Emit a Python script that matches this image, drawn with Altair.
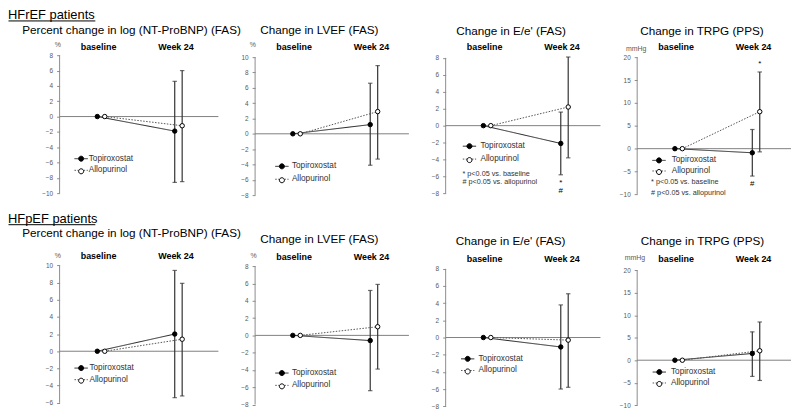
import altair as alt
import pandas as pd
import numpy as np

# ---------------- data ----------------
visits = ["baseline", "Week 24"]
weeks = [0, 24]
arms = ["Topiroxostat", "Allopurinol"]
groups = ["HFrEF patients", "HFpEF patients"]
titles = [
    "Percent change in log (NT-ProBNP) (FAS)", "Change in LVEF (FAS)",
    "Change in E/e' (FAS)", "Change in TRPG (PPS)",
    "Percent change in log (NT-ProBNP) (FAS)", "Change in LVEF (FAS)",
    "Change in E/e' (FAS)", "Change in TRPG (PPS)",
]
units = ["%", "%", "", "mmHg", "%", "%", "", "mmHg"]
tick_min = [-10, -8, -8, -10, -6, -8, -8, -10]
tick_max = [8, 10, 8, 20, 10, 8, 8, 20]
tick_step = [2, 2, 2, 5, 2, 2, 2, 5]

topi_base = [0, 0, 0, 0, 0, 0, 0, 0]
allo_base = [0, 0, 0, 0, 0, 0, 0, 0]
topi_w24 = [-1.9, 1.2, -2.1, -0.9, 2.0, -0.6, -1.1, 1.5]
topi_lo = [-8.6, -4.1, -5.8, -6.0, -5.4, -6.4, -6.0, -3.6]
topi_hi = [4.6, 6.6, 1.6, 4.2, 9.4, 5.2, 3.8, 6.3]
allo_w24 = [-1.2, 2.9, 2.2, 8.1, 1.4, 1.0, -0.3, 2.1]
allo_lo = [-8.5, -3.3, -3.8, -0.7, -5.2, -3.9, -5.8, -4.5]
allo_hi = [6.0, 8.9, 8.1, 16.8, 7.9, 5.9, 5.1, 8.5]

notes = ["* p<0.05 vs. baseline", "# p<0.05 vs. allopurinol"]
sig_panel = [2, 3, 3]
sig_arm = ["Topiroxostat", "Allopurinol", "Topiroxostat"]
sig_side = ["low", "high", "low"]
sig_text = ["*\n#", "*", "#"]

# ---------------- layout / style ----------------
COL_W = [160, 155, 156, 155]
COL_GAP = 37
ROW_T = [54, 265.5]
ROW_H = [141, 142.5]
ROW_GAP = ROW_T[1] - ROW_T[0] - ROW_H[0]
PX_PER_WEEK = 3.25
X0 = 41.75
ARM_SHIFT = 1.154
TICK_PX = [(54.1, 193), (56, 195), (56.7, 193.3), (56.2, 194.2),
           (265.7, 404.3), (266.7, 406), (269.3, 407.7), (270.7, 406.7)]
TITLE_POS = [(72.5, -25.7), (64.7, -25.7), (66, -24.7), (65.3, -24.7),
             (72.5, -32.2), (64.8, -26.2), (65.5, -23.8), (65.8, -23.8)]
X_LABEL_PAD = [3.8, 3.8, 3.8, 3.8, 4.6, 3.6, 2.0, 1.3]
UNIT_POS = [(-2.3, -10.7), (-2.7, -10.7), None, (-1.5, -6.5),
            (-2.3, -9.8), (-2.0, -9.8), None, (-2.7, -7.2)]
LEG = [(17.55, 100.15, 2.7, 3.5), (22.85, 107.85, 4, 5.9), (19.85, 87.55, 4, 6.9),
       (17.85, 101.85, 1.7, 8.6), (17.55, 99.65, 2.7, 4.2), (22.85, 104.65, 3.4, 5.9),
       (18.05, 90.35, 2.7, 6.7), (18.15, 103.65, 2, 7.6)]
NOTE_LEG = {2: (9.7, 115.65, 1), 3: (6.7, 124.05, 3)}
HEAD = {0: (-46, "top", -34.5), 4: (-42.2, "alphabetic", -40.7)}

AXIS_GRAY = "#8c8c8c"
ZERO_GRAY = "#808080"
BAR = "#333333"
LINE_COLORS = ["#222222", "#555555"]
DASHES = [[1, 0], [1.5, 1.5]]
PT_SIZE = 20
# legend symbols: both span the same extent so the two legends stay aligned
LINE_SYMBOL = "M-3,0H-1.13M1.13,0H3"
DOT_SYMBOL = "M-3,0M3,0M1.13,0A1.13,1.13,0,1,1,-1.13,0A1.13,1.13,0,1,1,1.13,0Z"

label_expr = f"datum.value == {weeks[0]} ? '{visits[0]}' : '{visits[1]}'"
xcalc = f"datum.week + (datum.series == '{arms[0]}' ? {-ARM_SHIFT} : {ARM_SHIFT})"


def make_panel(i):
    col, row = i % 4, i // 4
    W, T, H = COL_W[col], ROW_T[row], ROW_H[row]
    vmin, vmax, step = tick_min[i], tick_max[i], tick_step[i]
    ytop, ybot = TICK_PX[i]
    k = (ybot - ytop) / (vmax - vmin)
    ys = alt.Scale(domain=[vmin - (T + H - ybot) / k, vmax + (ytop - T) / k],
                   nice=False, zero=False)
    xmin = -X0 / PX_PER_WEEK
    xs = alt.Scale(domain=[xmin, xmin + W / PX_PER_WEEK], nice=False, zero=False)
    ticks = list(range(vmin, vmax + 1, step))

    xaxis = alt.Axis(orient="top", values=weeks, labelExpr=label_expr, domain=False,
                     ticks=False, tickSize=0, grid=False, labelFontSize=9,
                     labelFontWeight="bold", labelColor="#000000",
                     labelPadding=X_LABEL_PAD[i], labelOffset=-3,
                     labelOverlap=False, labelFlush=False, title=None)
    ykw = dict(values=ticks, domain=False, grid=False, tickSize=3, tickColor=AXIS_GRAY,
               tickWidth=1, labelFontSize=6.5, labelColor="#595959", labelPadding=4,
               labelOverlap=False)
    if UNIT_POS[i] is not None:
        ykw.update(title=units[i], titleAngle=0, titleX=UNIT_POS[i][0],
                   titleY=UNIT_POS[i][1], titleAlign="center", titleBaseline="middle",
                   titleFontSize=7, titleFontWeight="normal", titleColor="#595959")
    else:
        ykw.update(title=None)
    yaxis = alt.Axis(**ykw)

    def X(f):
        return alt.X(f, type="quantitative", scale=xs, axis=xaxis)

    def Y(f):
        return alt.Y(f, type="quantitative", scale=ys, axis=yaxis)

    df = pd.DataFrame({
        "series": [arms[0], arms[0], arms[1], arms[1]],
        "week": [weeks[0], weeks[1], weeks[0], weeks[1]],
        "value": [topi_base[i], topi_w24[i], allo_base[i], allo_w24[i]],
        "lo": [np.nan, topi_lo[i], np.nan, allo_lo[i]],
        "hi": [np.nan, topi_hi[i], np.nan, allo_hi[i]],
    })
    df["arm"] = df["series"]
    base = alt.Chart(df).transform_calculate(xpos=xcalc)
    wk = base.transform_filter(f"datum.week == {weeks[1]}")

    layers = []
    layers.append(alt.Chart(pd.DataFrame({"lo": [vmin], "hi": [vmax]}))
                  .mark_rule(color=AXIS_GRAY, strokeWidth=1)
                  .encode(x=alt.value(0), y=Y("lo"), y2=alt.Y2("hi")))
    layers.append(alt.Chart(pd.DataFrame({"zero": [0]}))
                  .mark_rule(color=ZERO_GRAY, strokeWidth=1)
                  .encode(y=Y("zero")))
    layers.append(wk.mark_rule(color=BAR, strokeWidth=1.2)
                  .encode(x=X("xpos"), y=Y("lo"), y2=alt.Y2("hi")))
    for f in ["lo", "hi"]:
        layers.append(wk.mark_tick(orient="horizontal", size=4.5, thickness=1.2, color=BAR)
                      .encode(x=X("xpos"), y=Y(f)))

    lx, ly, lpad, loff = LEG[i]
    line_leg = alt.Legend(orient="none", legendX=lx, legendY=ly, title=None, padding=0,
                          rowPadding=lpad, labelOffset=loff, labelFontSize=8.3,
                          labelColor="#333333", symbolType=LINE_SYMBOL, symbolSize=PT_SIZE,
                          symbolStrokeWidth=1)
    pt_leg = alt.Legend(orient="none", legendX=lx, legendY=ly, title=None, padding=0,
                        rowPadding=lpad, labelOffset=loff, labelFontSize=8.3,
                        labelOpacity=0, symbolType=DOT_SYMBOL, symbolSize=PT_SIZE,
                        symbolStrokeColor="#000000", symbolStrokeWidth=1)
    layers.append(base.mark_line(strokeWidth=1).encode(
        x=X("xpos"), y=Y("value"),
        color=alt.Color("series:N", sort="descending",
                        scale=alt.Scale(range=LINE_COLORS), legend=line_leg),
        strokeDash=alt.StrokeDash("series:N", sort="descending",
                                  scale=alt.Scale(range=DASHES), legend=line_leg)))
    layers.append(base.mark_point(filled=True, size=PT_SIZE, stroke="#000000",
                                  strokeWidth=1, opacity=1).encode(
        x=X("xpos"), y=Y("value"),
        fill=alt.Fill("arm:N", sort="descending",
                      scale=alt.Scale(range=["#000000", "#ffffff"]), legend=pt_leg)))

    # significance marks
    for side in ["low", "high"]:
        rows = []
        for j in range(len(sig_panel)):
            if sig_panel[j] == i and sig_side[j] == side:
                if sig_arm[j] == arms[0]:
                    yv = topi_lo[i] if side == "low" else topi_hi[i]
                else:
                    yv = allo_lo[i] if side == "low" else allo_hi[i]
                rows.append({"series": sig_arm[j], "week": weeks[1], "y": yv,
                             "text": sig_text[j]})
        if rows:
            if side == "low":
                mk = dict(baseline="top", dy=4)
            else:
                mk = dict(baseline="bottom", dy=-4.4)
            layers.append(alt.Chart(pd.DataFrame(rows)).transform_calculate(xpos=xcalc)
                          .mark_text(fontSize=8, lineBreak="\n", lineHeight=8,
                                     color="#000000", **mk)
                          .encode(x=X("xpos"), y=Y("y"), text="text:N"))

    if i in NOTE_LEG:
        nx, ny, npad = NOTE_LEG[i]
        note_leg = alt.Legend(orient="none", legendX=nx, legendY=ny, title=None, padding=0,
                              rowPadding=npad, labelOffset=0, labelFontSize=7.3,
                              labelColor="#333333", symbolSize=0, symbolOpacity=0,
                              symbolFillColor="transparent", symbolStrokeColor="transparent")
        layers.append(alt.Chart(pd.DataFrame({"note": notes}))
                      .mark_point(opacity=0, size=0)
                      .encode(shape=alt.Shape("note:N", sort="descending", legend=note_leg)))

    tx, ty = TITLE_POS[i]
    layers.append(alt.Chart(pd.DataFrame({"t": [titles[i]]}))
                  .mark_text(fontSize=11.8, align="center", baseline="middle", color="#000000")
                  .encode(text="t:N", x=alt.value(tx), y=alt.value(ty)))

    if i in HEAD:
        hy, hb, uy = HEAD[i]
        hdf = pd.DataFrame({"t": [groups[row]]})
        layers.append(alt.Chart(hdf)
                      .mark_text(fontSize=13, align="left", baseline=hb, color="#000000")
                      .encode(text="t:N", x=alt.value(-52), y=alt.value(hy)))
        layers.append(alt.Chart(hdf).mark_rule(color="#000000", strokeWidth=1)
                      .encode(x=alt.value(-51.5), x2=alt.value(-51.5 + 87.5), y=alt.value(uy)))

    return alt.layer(*layers).properties(width=W, height=H)


panels = [make_panel(i) for i in range(8)]

chart = (
    alt.concat(*panels, columns=4,
               spacing=alt.RowColnumber(row=ROW_GAP, column=COL_GAP),
               bounds="flush", align="each")
    .resolve_scale(color="independent", fill="independent",
                   strokeDash="independent", shape="independent")
    .properties(padding=0)
    .configure(font="Liberation Sans")
    .configure_view(stroke=None)
)

chart.save("out.html", embed_options={"renderer": "svg", "actions": False})
